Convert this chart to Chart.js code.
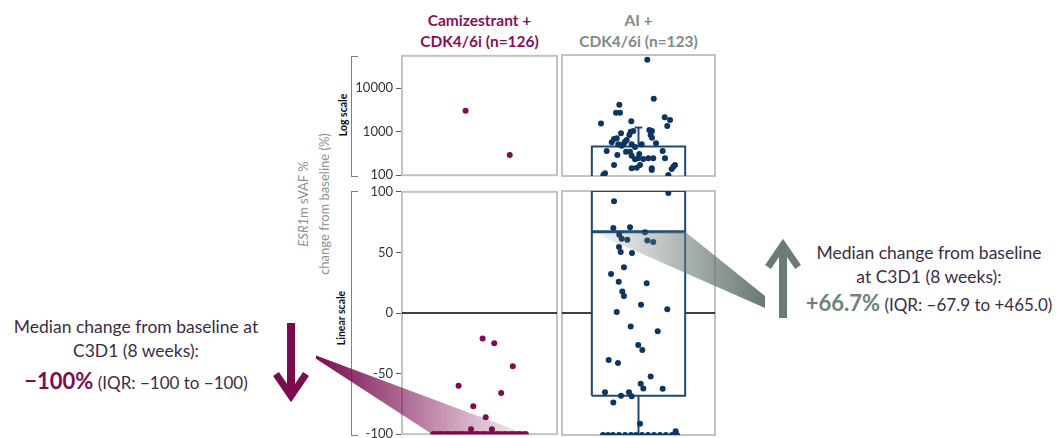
<!DOCTYPE html>
<html>
<head>
<meta charset="utf-8">
<script src="https://cdn.jsdelivr.net/npm/chart.js@4.4.1/dist/chart.umd.min.js"></script>
<style>
  html, body { margin: 0; padding: 0; background: #fff; }
  #stage { position: relative; width: 1058px; height: 438px; overflow: hidden; font-family: Lato, "Open Sans", sans-serif; }
  #stage canvas { position: absolute; }
  .txt { position: absolute; text-align: center; white-space: nowrap; }
  .grp { font-weight: 700; font-size: 15.5px; line-height: 21px; width: 220px; }
  .note { color: #3b2d45; font-size: 17.5px; line-height: 24px; }
  .big { font-weight: 700; font-size: 22px; }
  .iqr { font-size: 17px; }
  .rot { transform: rotate(-90deg); transform-origin: 50% 50%; }
  .scaleLbl { font-weight: 700; font-size: 10.5px; line-height: 12px; width: 90px; color: #111; }
  .bracket { position: absolute; box-sizing: border-box; border: 1.5px solid #7f7f7f; border-right: none; }
</style>
</head>
<body>
<div id="stage">
  <div class="txt grp" id="grp0" style="left:369.5px; top:10px; color:#86105a;"></div>
  <div class="txt grp" id="grp1" style="left:528.5px; top:10px; color:#7d8b86;"></div>

  <div class="txt rot" style="left:214px; top:183px; width:200px; height:42px; font-size:13px; line-height:21px; color:#8f8f8f;"><i>ESR1</i>m sVAF %<br>change from baseline (%)</div>
  <div class="txt rot scaleLbl" style="left:297.5px; top:108.5px;">Log scale</div>
  <div class="txt rot scaleLbl" style="left:296px; top:312px;">Linear scale</div>
  <div class="bracket" style="left:351px; top:56px; width:7px; height:121px;"></div>
  <div class="bracket" style="left:351px; top:191px; width:7px; height:245px;"></div>

  <div class="txt note" style="left:-4px; top:315px; width:280px;">Median change from baseline at<br>C3D1 (8 weeks):</div>
  <div class="txt note" id="camiNote" style="left:-4px; top:367px; width:280px; line-height:28px;"></div>
  <div class="txt note" style="left:799px; top:241px; width:260px;">Median change from baseline<br>at C3D1 (8 weeks):</div>
  <div class="txt note" id="aiNote" style="left:799px; top:289px; width:260px; line-height:28px;"></div>
</div>
<script>
// ---- groups ----
const groupLines = [['Camizestrant +', 'CDK4/6i (n=126)'], ['AI +', 'CDK4/6i (n=123)']];

// ---- axis ticks and ranges ----
const logTicks = [100, 1000, 10000];
const linTicks = [-100, -50, 0, 50, 100];
const logRange = [100, 56000];
const linRange = [-100, 100];

// ---- camizestrant + CDK4/6i: horizontal jitter and % change ----
const camiLogX = [-0.18, 0.39];
const camiLogY = [3050, 290];
const camiLinX = [0.04, 0.19, 0.43, -0.27, 0.28, -0.08, 0.08, -0.11, 0.16,
                  -0.60, -0.51, -0.41, -0.32, -0.23, -0.12, -0.03, 0.06, 0.15, 0.24, 0.33, 0.42, 0.51, 0.60];
const camiLinY = [-21, -25, -44, -60, -66, -77, -86, -96, -96,
                  -100, -100, -100, -100, -100, -100, -100, -100, -100, -100, -100, -100, -100, -100];
const camiMedian = -100, camiQ1 = -100, camiQ3 = -100;

// ---- AI + CDK4/6i ----
const aiLogX = [0.115, 0.199, -0.251, -0.294, -0.242, 0.342, 0.412, -0.490, -0.094, 0.376,
                0.141, 0.176, -0.229, -0.102, -0.068, 0.159, 0.176, -0.120, -0.154, -0.320,
                -0.285, -0.350, -0.176, -0.199, -0.089, -0.046, 0.042, -0.264, -0.220, 0.229,
                -0.416, -0.163, -0.111, 0.316, 0.010, -0.277, -0.089, 0.193, 0.128, 0.063,
                -0.003, -0.046, 0.346, -0.320, -0.089, -0.024, 0.020, 0.173, 0.477, 0.455,
                0.434, -0.438, -0.460, 0.390, 0.173];
const aiLogY = [43950, 5710, 4170, 2750, 2750, 2160, 1875, 1560, 1750, 1370,
                1110, 1055, 933, 1016, 1055, 855, 742, 855, 658, 693,
                719, 583, 603, 525, 525, 456, 525, 525, 489, 553,
                370, 357, 357, 370, 316, 300, 289, 252, 252, 243,
                252, 240, 252, 178, 150, 154, 178, 150, 178, 163,
                144, 115, 105, 105, 137];
const aiLinX = [0.390, -0.320, -0.329, -0.111, 0.085, -0.251, -0.220, -0.146, 0.115, 0.193,
                -0.255, -0.233, -0.085, -0.190, -0.359, -0.259, 0.107, -0.212, -0.190, 0.033,
                0.376, -0.285, -0.102, 0.251, -0.003, 0.050, -0.390, -0.268, 0.159, 0.029,
                0.063, 0.316, -0.438, -0.124, -0.089, -0.229, -0.329, 0.020, 0.486,
                -0.464, -0.399, -0.333, -0.255, -0.176, -0.098, -0.033, 0.046, 0.124, 0.203,
                0.281, 0.359, 0.438, 0.503];
const aiLinY = [98.4, 91.5, 69.7, 70.2, 66.1, 64.2, 60.9, 60.1, 59.5, 58.2,
                54.1, 50.0, 49.2, 37.4, 32.0, 25.7, 24.3, 17.7, 13.9, 6.8,
                3.0, 0.8, -11, -15, -26.2, -30.3, -38.5, -41, -52, -58,
                -61.8, -62, -65, -65, -68.3, -67.8, -73.3, -90.7, -97,
                -100, -100, -100, -100, -100, -100, -100, -100, -100, -100,
                -100, -100, -100, -100];
const aiMedian = 66.7, aiQ1 = -67.9, aiQ3 = 465.0, aiWhiskerHigh = 1260, aiWhiskerLow = -100;

// ---- styling ----
const MAROON = '#7d0c52', NAVY_DOT = '#0c3661', NAVY_BOX = '#1c4a78';
const BOX_HALF = 0.61, CAP_HALF = 0.05, PAD = 10, AXIS_W = 50;
Chart.defaults.font.family = 'Lato';

const stage = document.getElementById('stage');
const pts = (xs, ys) => xs.map((x, i) => ({ x, y: ys[i] }));

// group headers
groupLines.forEach((lines, i) => { document.getElementById('grp' + i).innerHTML = lines.join('<br>'); });

// signed number as written in the callouts
function signed(v, d) {
  const s = Math.abs(v).toFixed(d);
  return (v < 0 ? '\u2212' : (v > 0 ? '+' : '')) + s;
}
document.getElementById('camiNote').innerHTML =
  '<span class="big" style="color:' + MAROON + '">' + signed(camiMedian, 0) + '%</span> <span class="iqr">(IQR: ' +
  signed(camiQ1, 0) + ' to ' + signed(camiQ3, 0) + ')</span>';
document.getElementById('aiNote').innerHTML =
  '<span class="big" style="color:#6e817a">' + signed(aiMedian, 1) + '%</span> <span class="iqr">(IQR: ' +
  signed(aiQ1, 1) + ' to ' + signed(aiQ3, 1) + ')</span>';

// light grey frame round every panel
const framePlugin = {
  id: 'frame',
  beforeDatasetsDraw(chart) {
    const a = chart.chartArea, c = chart.ctx;
    c.save();
    c.strokeStyle = '#c2c2c2';
    c.lineWidth = 2;
    c.strokeRect(a.left, a.top, a.right - a.left, a.bottom - a.top);
    c.restore();
  }
};

function lineSet(data, color, width, order, extra) {
  return Object.assign({ type: 'line', data, borderColor: color, borderWidth: width, pointRadius: 0,
    fill: false, tension: 0, clip: 0, order }, extra || {});
}
function dotSet(data, color) {
  return { type: 'scatter', data, backgroundColor: color, pointRadius: 3, pointBorderWidth: 0,
    pointHoverRadius: 3, clip: 0, order: 1 };
}

function panel(area, withAxis, isLog, datasets) {
  const axisW = withAxis ? AXIS_W : 0;
  const cv = document.createElement('canvas');
  const left = area.l - PAD - axisW, top = area.t - PAD;
  const w = area.r - area.l + 2 * PAD + axisW, h = area.b - area.t + 2 * PAD;
  cv.width = w; cv.height = h;
  cv.style.left = left + 'px'; cv.style.top = top + 'px';
  cv.style.width = w + 'px'; cv.style.height = h + 'px';
  cv.style.zIndex = 2;
  stage.appendChild(cv);
  const ticks = isLog ? logTicks : linTicks;
  const range = isLog ? logRange : linRange;
  const chart = new Chart(cv, {
    type: 'scatter',
    data: { datasets },
    options: {
      responsive: false, animation: false, devicePixelRatio: 1,
      layout: { padding: PAD },
      events: [],
      plugins: { legend: { display: false }, tooltip: { enabled: false } },
      scales: {
        x: { type: 'linear', min: -1, max: 1, display: false },
        y: {
          type: isLog ? 'logarithmic' : 'linear',
          min: range[0], max: range[1],
          display: withAxis,
          position: 'left',
          afterFit: s => { s.width = axisW; },
          afterBuildTicks: s => { s.ticks = ticks.map(v => ({ value: v })); },
          border: { display: false },
          grid: { drawOnChartArea: false, drawTicks: true, tickLength: 6, tickColor: '#555', tickWidth: 1 },
          ticks: { padding: 3, color: '#333', font: { size: 13 }, callback: v => String(v) }
        }
      }
    },
    plugins: [framePlugin]
  });
  return { chart, left, top };
}

const camiLogP = panel({ l: 402, t: 55, r: 557, b: 176 }, true, true, [
  dotSet(pts(camiLogX, camiLogY), MAROON)
]);

const camiLinP = panel({ l: 402, t: 191, r: 557, b: 435 }, true, false, [
  lineSet([{ x: -1, y: 0 }, { x: 1, y: 0 }], '#000', 1.5, 5),
  lineSet([{ x: -BOX_HALF, y: camiMedian }, { x: BOX_HALF, y: camiMedian }], MAROON, 6, 2),
  dotSet(pts(camiLinX, camiLinY), MAROON)
]);

const aiLogP = panel({ l: 562, t: 55, r: 715, b: 176 }, false, true, [
  lineSet([{ x: -BOX_HALF, y: logRange[0] }, { x: -BOX_HALF, y: aiQ3 }, { x: BOX_HALF, y: aiQ3 }, { x: BOX_HALF, y: logRange[0] }], NAVY_BOX, 2, 3),
  lineSet([{ x: 0, y: aiQ3 }, { x: 0, y: aiWhiskerHigh }], NAVY_BOX, 2, 3),
  lineSet([{ x: -CAP_HALF, y: aiWhiskerHigh }, { x: CAP_HALF, y: aiWhiskerHigh }], NAVY_BOX, 2, 3),
  dotSet(pts(aiLogX, aiLogY), NAVY_DOT)
]);

const boxTop = Math.min(aiQ3, linRange[1]);
const aiLinP = panel({ l: 562, t: 191, r: 715, b: 435 }, false, false, [
  lineSet([{ x: -1, y: 0 }, { x: 1, y: 0 }], '#000', 1.5, 5),
  lineSet([{ x: -BOX_HALF, y: boxTop }, { x: BOX_HALF, y: boxTop }], 'rgba(0,0,0,0)', 1, 4,
          { fill: { value: aiQ1 }, backgroundColor: '#ffffff' }),
  lineSet([{ x: -BOX_HALF, y: aiQ1 }, { x: -BOX_HALF, y: boxTop }, { x: BOX_HALF, y: boxTop },
           { x: BOX_HALF, y: aiQ1 }, { x: -BOX_HALF, y: aiQ1 }], NAVY_BOX, 2, 3),
  lineSet([{ x: 0, y: aiQ1 }, { x: 0, y: aiWhiskerLow }], NAVY_BOX, 2, 3),
  lineSet([{ x: -BOX_HALF, y: aiMedian }, { x: BOX_HALF, y: aiMedian }], NAVY_BOX, 3, 2),
  dotSet(pts(aiLinX, aiLinY), NAVY_DOT)
]);

// ---- callout wedges and arrows, on a layer above the panels ----
const ov = document.createElement('canvas');
ov.width = 1058; ov.height = 438;
ov.style.left = '0px'; ov.style.top = '0px'; ov.style.zIndex = 5; ov.style.pointerEvents = 'none';
stage.appendChild(ov);
const g = ov.getContext('2d');

function pagePx(p, x, y) {
  return [p.left + p.chart.scales.x.getPixelForValue(x), p.top + p.chart.scales.y.getPixelForValue(y)];
}

// camizestrant wedge: from the down arrow to the median bar
{
  const [x1, y1] = pagePx(camiLinP, -BOX_HALF, camiMedian);
  const [x2] = pagePx(camiLinP, BOX_HALF, camiMedian);
  const grad = g.createLinearGradient(316, 0, x2, 0);
  grad.addColorStop(0, 'rgba(122,12,79,1)');
  grad.addColorStop(1, 'rgba(122,12,79,0.06)');
  g.fillStyle = grad;
  g.beginPath();
  g.moveTo(316, 355.5);
  g.lineTo(x2, y1);
  g.lineTo(x1, y1);
  g.lineTo(316, 358.8);
  g.closePath();
  g.fill();
}
// AI wedge: from the median bar to the up arrow
{
  const [x1, y1] = pagePx(aiLinP, -BOX_HALF, aiMedian);
  const [x2] = pagePx(aiLinP, BOX_HALF, aiMedian);
  const grad = g.createLinearGradient(x1, 0, 765, 0);
  grad.addColorStop(0, 'rgba(104,120,114,0.04)');
  grad.addColorStop(1, 'rgba(104,120,114,1)');
  g.fillStyle = grad;
  g.beginPath();
  g.moveTo(x1, y1);
  g.lineTo(x2, y1);
  g.lineTo(765, 296);
  g.lineTo(765, 308);
  g.closePath();
  g.fill();
}

function arrow(color, x, yTail, yHead, dir) {
  g.save();
  g.strokeStyle = color;
  g.lineCap = 'butt';
  g.lineJoin = 'miter';
  g.lineWidth = 8;
  g.beginPath();
  g.moveTo(x, yTail);
  g.lineTo(x, yHead);
  g.stroke();
  g.lineWidth = 7;
  g.beginPath();
  g.moveTo(x - 15, yHead - dir * 22);
  g.lineTo(x, yHead);
  g.lineTo(x + 15, yHead - dir * 22);
  g.stroke();
  g.restore();
}
arrow('#7b0b4e', 291, 323, 396, 1);
arrow('#6b7c76', 783, 318, 245, -1);
</script>
</body>
</html>
